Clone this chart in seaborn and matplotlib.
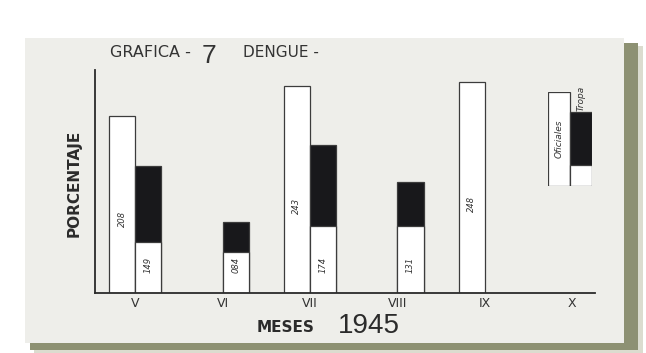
import matplotlib.pyplot as plt
from matplotlib.patches import Rectangle
import seaborn as sns
import numpy as np
import pandas as pd

meses = ["V", "VI", "VII", "VIII", "IX", "X"]
series = ["Oficiales", "Tropa"]
oficiales = [2.08, np.nan, 2.43, np.nan, 2.48, np.nan]
tropa = [1.49, 0.84, 1.74, 1.31, np.nan, np.nan]
# lower part of the black bars that shows as white on the scan
tropa_claro = [0.60, 0.48, 0.79, 0.79, np.nan, np.nan]
# legend bars (relative heights)
leyenda_alto = [1.0, 0.79]
leyenda_claro = [np.nan, 0.22]

W, H = 646, 353
TINTA = "#2b2b2b"
NEGRO = "#17171c"
PAPEL = "#eeeeea"


def px(x, y):
    """pixel position -> figure fraction"""
    return x / W, 1 - y / H


df = pd.DataFrame({
    "mes": meses * 2,
    "serie": [series[0]] * len(meses) + [series[1]] * len(meses),
    "valor": oficiales + tropa,
}).dropna()
df_claro = pd.DataFrame({
    "mes": meses,
    "serie": series[1],
    "valor": tropa_claro,
}).dropna()

sns.set_style("white")
fig = plt.figure(figsize=(W / 100, H / 100), dpi=100)
fig.patch.set_facecolor("white")

# paper sheet with its shadow
for x0, y0, x1, y1, c, a in [
    (34, 46, 643, 353, "#c3c6b0", 0.6),
    (30, 43, 638, 350, "#8d9173", 1.0),
    (25, 38, 624, 343, PAPEL, 1.0),
]:
    fx0, fy1 = px(x0, y0)
    fx1, fy0 = px(x1, y1)
    fig.add_artist(Rectangle((fx0, fy0), fx1 - fx0, fy1 - fy0,
                             transform=fig.transFigure, color=c, alpha=a,
                             lw=0, zorder=-5))

left, top = px(95, 70)
right, bottom = px(595, 293)
ax = fig.add_axes([left, bottom, right - left, top - bottom])
ax.set_facecolor("none")

pal = {series[0]: "white", series[1]: NEGRO}
sns.barplot(data=df, x="mes", y="valor", hue="serie", order=meses,
            hue_order=series, palette=pal, width=0.6, errorbar=None,
            dodge=True, edgecolor="#3c3c3c", linewidth=0.9, legend=False,
            ax=ax)
sns.barplot(data=df_claro, x="mes", y="valor", hue="serie", order=meses,
            hue_order=series, palette={s: "white" for s in series},
            width=0.6, errorbar=None, dodge=True, edgecolor="#3c3c3c",
            linewidth=0.9, legend=False, ax=ax)

# handwritten values inside the bars
vals_of = [v for v in oficiales if not np.isnan(v)]
vals_tr = [v for v in tropa if not np.isnan(v)]
for bar, v in zip(ax.containers[0], vals_of):
    ax.text(bar.get_x() + bar.get_width() / 2, v * 0.42,
            f"{v:.2f}".replace(".", ""), rotation=90, ha="center",
            va="center", fontsize=6, style="italic", color="#333333")
for bar, v in zip(ax.containers[1], vals_tr):
    ax.text(bar.get_x() + bar.get_width() / 2, 0.33,
            f"{v:.2f}".replace(".", ""), rotation=90, ha="center",
            va="center", fontsize=6, style="italic", color="#333333")

ax.set_xlim(-0.46, 5.26)
ax.set_ylim(0, 2.62)
ax.set_yticks([])
ax.set_xlabel("")
ax.set_ylabel("")
ax.tick_params(axis="x", length=0, pad=3, labelsize=9, labelcolor="#333333")
sns.despine(ax=ax)
for s in ["left", "bottom"]:
    ax.spines[s].set_color(TINTA)
    ax.spines[s].set_linewidth(1.3)

# legend drawn as two small bars
lx0, ly1 = px(548, 92)
lx1, ly0 = px(592, 186)
lax = fig.add_axes([lx0, ly0, lx1 - lx0, ly1 - ly0])
lax.set_facecolor("none")
sns.barplot(x=series, y=leyenda_alto, hue=series, palette=pal, width=1.0,
            edgecolor="#3c3c3c", linewidth=0.9, legend=False, ax=lax)
sns.barplot(x=series, y=leyenda_claro, hue=series,
            palette={s: "white" for s in series}, width=1.0,
            edgecolor="#3c3c3c", linewidth=0.9, legend=False, ax=lax)
lax.set_xlim(-0.5, 1.5)
lax.set_ylim(0, 1.0)
lax.axis("off")
lax.text(0, 0.5, series[0], rotation=90, ha="center", va="center",
         fontsize=6.5, style="italic", color="#333333")
lax.text(1, 0.93, series[1], rotation=90, ha="center", va="center",
         fontsize=6.5, style="italic", color="#333333", clip_on=False)

# title and axis captions
fig.text(*px(110, 57), "GRAFICA -", fontsize=11.5, color="#333333",
         ha="left", va="baseline")
fig.text(*px(202, 63), "7", fontsize=19, color="#333333", ha="left",
         va="baseline", family="Liberation Sans")
fig.text(*px(243, 57), "DENGUE -", fontsize=11, color="#333333",
         ha="left", va="baseline")
fig.text(*px(74, 183), "PORCENTAJE", rotation=90, fontsize=11,
         weight="bold", color="#2b2b2b", ha="center", va="center")
fig.text(*px(257, 332), "MESES", fontsize=11, weight="bold",
         color="#2b2b2b", ha="left", va="baseline")
fig.text(*px(338, 333), "1945", fontsize=20, color="#2b2b2b", ha="left",
         va="baseline", family="Liberation Sans")

fig.savefig("out.png", dpi=100)
